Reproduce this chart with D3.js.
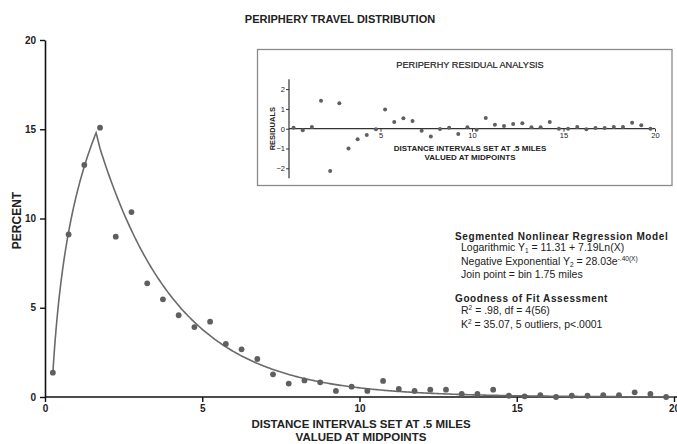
<!DOCTYPE html>
<html>
<head>
<meta charset="utf-8">
<script src="https://cdn.jsdelivr.net/npm/d3@7/dist/d3.min.js"></script>
<style>
  html, body { margin: 0; padding: 0; background: #fff; }
  svg { display: block; font-family: "Liberation Sans", Arial, sans-serif; }
</style>
</head>
<body>
<svg id="chart" width="677" height="444"></svg>
<script>
// Bin midpoints (miles), 0.5-mile intervals
const binMidpoints = [0.25, 0.75, 1.25, 1.75, 2.25, 2.75, 3.25, 3.75, 4.25, 4.75,
  5.25, 5.75, 6.25, 6.75, 7.25, 7.75, 8.25, 8.75, 9.25, 9.75,
  10.25, 10.75, 11.25, 11.75, 12.25, 12.75, 13.25, 13.75, 14.25, 14.75,
  15.25, 15.75, 16.25, 16.75, 17.25, 17.75, 18.25, 18.75, 19.25, 19.75];

// Observed percent of trips in each bin
const percentObserved = [1.36, 9.11, 13.0, 15.09, 8.98, 10.36, 6.37, 5.47, 4.58, 3.92,
  4.22, 2.97, 2.67, 2.13, 1.27, 0.75, 0.93, 0.82, 0.34, 0.58,
  0.34, 0.90, 0.45, 0.34, 0.41, 0.41, 0.17, 0.17, 0.41, 0.07,
  0.04, 0.10, 0.00, 0.07, 0.07, 0.10, 0.10, 0.26, 0.17, 0.00];

// Residuals of the segmented model for each bin
const residuals = [0.05, -0.08, 0.08, 1.41, -2.14, 1.29, -1.00, -0.53, -0.32, -0.03,
  0.97, 0.34, 0.53, 0.39, -0.10, -0.39, -0.02, 0.05, -0.27, 0.07,
  -0.05, 0.54, 0.20, 0.14, 0.24, 0.27, 0.07, 0.07, 0.34, 0.00,
  0.00, 0.08, -0.03, 0.03, 0.03, 0.08, 0.08, 0.30, 0.17, 0.00];

// Segmented model: Y1 = a + b ln(X) up to the join, Y2 = c e^(k X) after it
const logCoef = [11.31, 7.19];
const expCoef = [28.03, -0.40];
const joinPoint = 1.75;

const mainTicks = [0, 5, 10, 15, 20];
const insetXTicks = [5, 10, 15, 20];
const insetYTicks = [-2, -1, 0, 1, 2];

const svg = d3.select("#chart");
const dotColor = "#5f5f5f";
const lineColor = "#6a6a6a";
const fontFamily = "Liberation Sans, Arial, sans-serif";

// ---------- main chart ----------
const x = d3.scaleLinear().domain([0, 20]).range([45, 674]);
const y = d3.scaleLinear().domain([0, 20]).range([397, 40]);

svg.append("text")
  .attr("x", 340).attr("y", 23)
  .attr("text-anchor", "middle")
  .attr("font-size", 11).attr("font-weight", "bold").attr("fill", "#222")
  .text("PERIPHERY TRAVEL DISTRIBUTION");

const yAxis = svg.append("g")
  .attr("transform", `translate(${x(0)},0)`)
  .call(d3.axisLeft(y).tickValues(mainTicks).tickSize(5).tickSizeOuter(0).tickPadding(4));
const xAxis = svg.append("g")
  .attr("transform", `translate(0,${y(0)})`)
  .call(d3.axisBottom(x).tickValues(mainTicks).tickSize(5).tickSizeOuter(0).tickPadding(3));

[yAxis, xAxis].forEach(g => {
  g.select(".domain").attr("stroke", "#111").attr("stroke-width", 1.6);
  g.selectAll(".tick line").attr("stroke", "#111").attr("stroke-width", 1.4);
  g.selectAll(".tick text")
    .attr("font-family", fontFamily)
    .attr("font-size", 10).attr("font-weight", "bold").attr("fill", "#222");
});
xAxis.select(".domain").attr("d", `M${x(0)},0H677`);

svg.append("text")
  .attr("transform", `translate(21,${(y(0) + y(20)) / 2 + 2}) rotate(-90)`)
  .attr("text-anchor", "middle")
  .attr("font-size", 12).attr("font-weight", "bold").attr("fill", "#222")
  .text("PERCENT");

svg.append("text")
  .attr("x", 361).attr("y", 428)
  .attr("text-anchor", "middle")
  .attr("font-size", 11.5).attr("font-weight", "bold").attr("fill", "#222")
  .text("DISTANCE INTERVALS SET AT .5 MILES");
svg.append("text")
  .attr("x", 361).attr("y", 441)
  .attr("text-anchor", "middle")
  .attr("font-size", 11.5).attr("font-weight", "bold").attr("fill", "#222")
  .text("VALUED AT MIDPOINTS");

// fitted segmented curve
const logPart = d3.range(binMidpoints[0], joinPoint - 0.1, 0.025)
  .map(v => [v, logCoef[0] + logCoef[1] * Math.log(v)]);
const expPart = d3.range(joinPoint, 20.0001, 0.05)
  .map(v => [v, expCoef[0] * Math.exp(expCoef[1] * v)]);
const line = d3.line().x(d => x(d[0])).y(d => y(d[1]));
svg.append("path")
  .attr("d", line(logPart.concat(expPart)))
  .attr("fill", "none").attr("stroke", lineColor).attr("stroke-width", 1.6);

svg.append("g").selectAll("circle")
  .data(binMidpoints)
  .join("circle")
  .attr("cx", d => x(d))
  .attr("cy", (d, i) => y(percentObserved[i]))
  .attr("r", 2.9)
  .attr("fill", dotColor);

// ---------- residual inset ----------
svg.append("rect")
  .attr("x", 257.5).attr("y", 49.5).attr("width", 414.5).attr("height", 136)
  .attr("fill", "#fff").attr("stroke", "#8a8a8a").attr("stroke-width", 1.3);

const ix = d3.scaleLinear().domain([0, 20]).range([289, 655]);
const iy = d3.scaleLinear().domain([-2.5, 2.5]).range([178.2, 79.2]);

svg.append("text")
  .attr("x", 470).attr("y", 68)
  .attr("text-anchor", "middle")
  .attr("font-size", 9.2).attr("fill", "#222")
  .attr("stroke", "#222").attr("stroke-width", 0.2)
  .text("PERIPERHY RESIDUAL ANALYSIS");

const iyAxis = svg.append("g")
  .attr("transform", `translate(${ix(0)},0)`)
  .call(d3.axisLeft(iy).tickValues(insetYTicks).tickFormat(d3.format("d"))
    .tickSize(3).tickSizeOuter(0).tickPadding(1));
const ixAxis = svg.append("g")
  .attr("transform", `translate(0,${iy(0)})`)
  .call(d3.axisBottom(ix).tickValues(insetXTicks).tickFormat(d3.format("d"))
    .tickSize(3).tickSizeOuter(0).tickPadding(1));
[iyAxis, ixAxis].forEach(g => {
  g.select(".domain").attr("stroke", "#333").attr("stroke-width", 1.2);
  g.selectAll(".tick line").attr("stroke", "#333");
  g.selectAll(".tick text")
    .attr("font-family", fontFamily)
    .attr("font-size", 7.5).attr("fill", "#222");
});
iyAxis.select(".domain").attr("d", `M0,${iy(2.5)}V${iy(-2.5)}`);
ixAxis.select(".domain").attr("d", `M${ix(0)},0H${ix(20)}`);

svg.append("text")
  .attr("transform", `translate(275,${iy(0)}) rotate(-90)`)
  .attr("text-anchor", "middle")
  .attr("font-size", 7.5).attr("font-weight", "bold").attr("fill", "#222")
  .text("RESIDUALS");

svg.append("text")
  .attr("x", 470).attr("y", 150.5)
  .attr("text-anchor", "middle")
  .attr("font-size", 8).attr("font-weight", "bold").attr("fill", "#222")
  .text("DISTANCE INTERVALS SET AT .5 MILES");
svg.append("text")
  .attr("x", 470).attr("y", 160)
  .attr("text-anchor", "middle")
  .attr("font-size", 8).attr("font-weight", "bold").attr("fill", "#222")
  .text("VALUED AT MIDPOINTS");

svg.append("g").selectAll("circle")
  .data(binMidpoints)
  .join("circle")
  .attr("cx", d => ix(d))
  .attr("cy", (d, i) => iy(residuals[i]))
  .attr("r", 2)
  .attr("fill", dotColor);

// ---------- model annotation ----------
const note = svg.append("g").attr("fill", "#222");
note.append("text").attr("x", 455).attr("y", 240)
  .attr("font-size", 10).attr("font-weight", "bold").attr("letter-spacing", 0.6)
  .text("Segmented Nonlinear Regression Model");
const l1 = note.append("text").attr("x", 461).attr("y", 251).attr("font-size", 10.5);
l1.append("tspan").text("Logarithmic Y");
l1.append("tspan").attr("font-size", 6.5).attr("dy", 2).text("1");
l1.append("tspan").attr("dy", -2).text(" = 11.31 + 7.19Ln(X)");
const l2 = note.append("text").attr("x", 461).attr("y", 265).attr("font-size", 10.5);
l2.append("tspan").text("Negative Exponential Y");
l2.append("tspan").attr("font-size", 6.5).attr("dy", 2).text("2");
l2.append("tspan").attr("dy", -2).text(" = 28.03e");
l2.append("tspan").attr("font-size", 6.5).attr("dy", -4).text("-.40(X)");
note.append("text").attr("x", 461).attr("y", 278).attr("font-size", 10.5)
  .text("Join point = bin 1.75 miles");

note.append("text").attr("x", 455).attr("y", 302)
  .attr("font-size", 10).attr("font-weight", "bold").attr("letter-spacing", 0.6)
  .text("Goodness of  Fit Assessment");
const r2 = note.append("text").attr("x", 461).attr("y", 314).attr("font-size", 10.5);
r2.append("tspan").text("R");
r2.append("tspan").attr("font-size", 6.5).attr("dy", -4).text("2");
r2.append("tspan").attr("dy", 4).text(" = .98, df = 4(56)");
const k2 = note.append("text").attr("x", 461).attr("y", 328).attr("font-size", 10.5);
k2.append("tspan").text("K");
k2.append("tspan").attr("font-size", 6.5).attr("dy", -4).text("2");
k2.append("tspan").attr("dy", 4).text(" = 35.07, 5 outliers, p<.0001");
</script>
</body>
</html>
